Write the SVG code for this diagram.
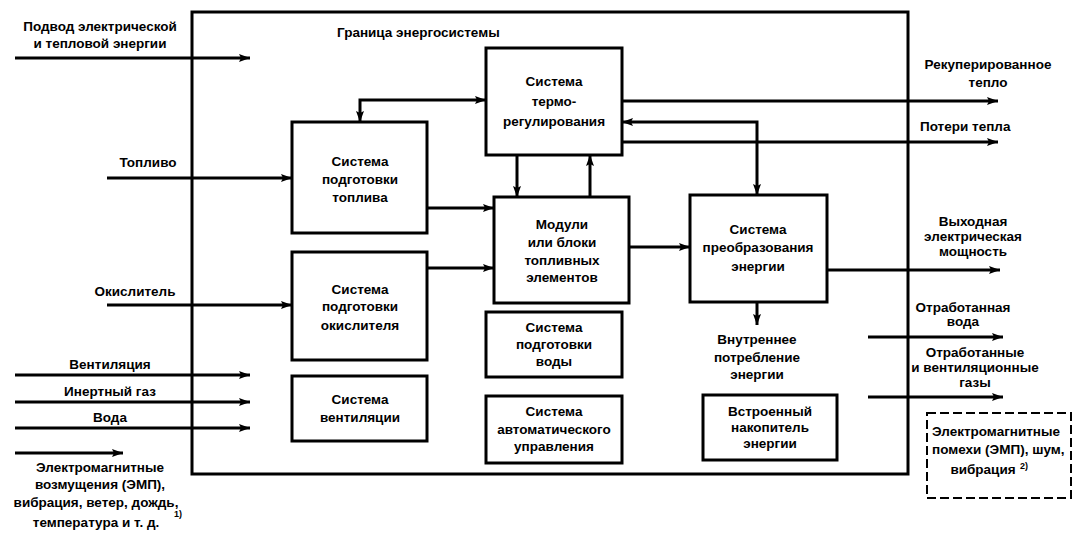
<svg xmlns="http://www.w3.org/2000/svg" width="1073" height="533" viewBox="0 0 1073 533">
<style>
.bx{fill:#fff;stroke:#000;stroke-width:3}
.ln{fill:none;stroke:#000;stroke-width:3}
.ar{marker-end:url(#ah)}
.bi{marker-start:url(#as);marker-end:url(#ah)}
text{font-family:"Liberation Sans",Arial,sans-serif;font-weight:bold;font-size:13.5px;fill:#000}
.c{text-anchor:middle}
.sup{font-size:9px}
</style>
<defs>
<marker id="ah" markerUnits="userSpaceOnUse" viewBox="0 0 11 8" refX="11" refY="4" markerWidth="11" markerHeight="8" orient="auto"><path d="M0,0 L11,4 L0,8 L2,4 z" fill="#000"/></marker>
<marker id="as" markerUnits="userSpaceOnUse" viewBox="0 0 11 8" refX="0" refY="4" markerWidth="11" markerHeight="8" orient="auto"><path d="M11,0 L0,4 L11,8 L9,4 z" fill="#000"/></marker>
</defs>
<rect width="1073" height="533" fill="#fff"/>
<g id="boundary">
<rect x="192" y="12" width="716" height="462" fill="none" stroke="#000" stroke-width="3"/>
<text x="337" y="37">Граница энергосистемы</text>
</g>
<g id="connectors">
<path class="ln ar" d="M15,58 H250"/>
<path class="ln ar" d="M107,178 H292"/>
<path class="ln ar" d="M107,305 H292"/>
<path class="ln ar" d="M15,375 H250"/>
<path class="ln ar" d="M15,402 H250"/>
<path class="ln ar" d="M15,428 H250"/>
<path class="ln ar" d="M15,453 H123"/>
<path class="ln bi" d="M486,100 H360 V122"/>
<path class="ln ar" d="M622,101 H998"/>
<path class="ln bi" d="M757,195 V122 H622"/>
<path class="ln ar" d="M622,142 H998"/>
<path class="ln ar" d="M517,155 V197"/>
<path class="ln ar" d="M590,197 V155"/>
<path class="ln ar" d="M427,208 H494"/>
<path class="ln ar" d="M427,268 H494"/>
<path class="ln ar" d="M629,247 H690"/>
<path class="ln ar" d="M827,270 H1000"/>
<path class="ln ar" d="M757,302 V325"/>
<path class="ln ar" d="M868,337 H1003"/>
<path class="ln ar" d="M868,397 H1003"/>
</g>
<g id="thermo">
<rect class="bx" x="486" y="48" width="136" height="107"/>
<text class="c" x="554" y="86">Система</text>
<text class="c" x="554" y="106">термо-</text>
<text class="c" x="554" y="126">регулирования</text>
</g>
<g id="fuelprep">
<rect class="bx" x="292" y="122" width="135" height="111"/>
<text class="c" x="360" y="166">Система</text>
<text class="c" x="360" y="184">подготовки</text>
<text class="c" x="360" y="202">топлива</text>
</g>
<g id="oxprep">
<rect class="bx" x="292" y="252" width="135" height="108"/>
<text class="c" x="360" y="294">Система</text>
<text class="c" x="360" y="311">подготовки</text>
<text class="c" x="360" y="330">окислителя</text>
</g>
<g id="modules">
<rect class="bx" x="494" y="197" width="135" height="106"/>
<text class="c" x="562" y="229">Модули</text>
<text class="c" x="562" y="247">или блоки</text>
<text class="c" x="562" y="265">топливных</text>
<text class="c" x="562" y="282">элементов</text>
</g>
<g id="conversion">
<rect class="bx" x="690" y="195" width="137" height="107"/>
<text class="c" x="758" y="234">Система</text>
<text class="c" x="758" y="252">преобразования</text>
<text class="c" x="758" y="271">энергии</text>
</g>
<g id="ventsys">
<rect class="bx" x="292" y="376" width="135" height="65"/>
<text class="c" x="360" y="404">Система</text>
<text class="c" x="360" y="422">вентиляции</text>
</g>
<g id="waterprep">
<rect class="bx" x="486" y="312" width="136" height="65"/>
<text class="c" x="554" y="332">Система</text>
<text class="c" x="554" y="349">подготовки</text>
<text class="c" x="554" y="366">воды</text>
</g>
<g id="automation">
<rect class="bx" x="486" y="396" width="136" height="67"/>
<text class="c" x="554" y="416">Система</text>
<text class="c" x="554" y="434">автоматического</text>
<text class="c" x="554" y="451">управления</text>
</g>
<g id="storage">
<rect class="bx" x="703" y="395" width="134" height="65"/>
<text class="c" x="770" y="416">Встроенный</text>
<text class="c" x="770" y="432">накопитель</text>
<text class="c" x="770" y="448">энергии</text>
</g>
<g id="emi-out">
<rect x="927" y="413" width="144" height="85" fill="none" stroke="#000" stroke-width="2" stroke-dasharray="9,4"/>
<text x="932" y="436">Электромагнитные</text>
<text x="932" y="454">помехи (ЭМП), шум,</text>
<text class="c" x="983" y="474">вибрация</text>
<text class="sup" x="1020" y="469">2)</text>
</g>
<g id="labels">
<text class="c" x="100" y="31">Подвод электрической</text>
<text class="c" x="100" y="48">и тепловой энергии</text>
<text class="c" x="148" y="167">Топливо</text>
<text class="c" x="135" y="296">Окислитель</text>
<text class="c" x="110" y="369">Вентиляция</text>
<text class="c" x="110" y="396">Инертный газ</text>
<text class="c" x="110" y="422">Вода</text>
<text class="c" x="100" y="472">Электромагнитные</text>
<text class="c" x="100" y="489">возмущения (ЭМП),</text>
<text class="c" x="96" y="507">вибрация, ветер, дождь,</text>
<text class="c" x="96" y="527">температура и т. д.</text>
<text class="sup" x="174" y="517">1)</text>
<text class="c" x="988" y="69">Рекуперированное</text>
<text class="c" x="988" y="87">тепло</text>
<text x="920" y="131">Потери тепла</text>
<text class="c" x="973" y="226">Выходная</text>
<text class="c" x="973" y="241">электрическая</text>
<text class="c" x="973" y="256">мощность</text>
<text class="c" x="963" y="312">Отработанная</text>
<text class="c" x="963" y="326">вода</text>
<text class="c" x="975" y="357">Отработанные</text>
<text class="c" x="975" y="372">и вентиляционные</text>
<text class="c" x="975" y="387">газы</text>
<text class="c" x="757" y="344">Внутреннее</text>
<text class="c" x="757" y="362">потребление</text>
<text class="c" x="757" y="379">энергии</text>
</g>
</svg>
